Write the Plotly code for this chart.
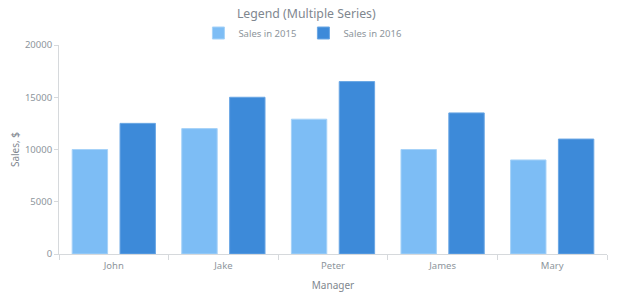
import plotly.graph_objects as go

managers = ["John", "Jake", "Peter", "James", "Mary"]
sales_2015 = [10000, 12000, 12900, 10000, 9000]
sales_2016 = [12500, 15000, 16500, 13500, 11000]
series_names = ["Sales in 2015", "Sales in 2016"]
y_ticks = [0, 5000, 10000, 15000, 20000]

TEXT = "#8d959c"
TITLE = "#7f878f"
AXIS = "#d6d9dc"
FONT = "Noto Sans"

fig = go.Figure()
fig.add_trace(go.Bar(
    x=managers, y=sales_2015, name=series_names[0],
    marker=dict(color="#7dbdf5", line=dict(color="#a6d2f8", width=1)),
))
fig.add_trace(go.Bar(
    x=managers, y=sales_2016, name=series_names[1],
    marker=dict(color="#3d8ad9", line=dict(color="#6aa7e4", width=1)),
))

fig.update_layout(
    width=620, height=300,
    margin=dict(l=58.5, r=13, t=45, b=46),
    paper_bgcolor="white", plot_bgcolor="white",
    font=dict(family=FONT, color=TEXT, size=9.5),
    title=dict(text="Legend (Multiple Series)", x=0.494, xanchor="center",
               y=1 - 14 / 300, yanchor="middle",
               font=dict(family=FONT, size=12.3, color=TITLE)),
    legend=dict(orientation="h", x=0.446, xanchor="center",
                y=1 + 12 / 209, yanchor="middle",
                font=dict(size=9.5, color=TEXT),
                itemwidth=30, entrywidth=60, entrywidthmode="pixels",
                traceorder="normal", bgcolor="rgba(0,0,0,0)"),
    barmode="group", bargap=0.127, bargroupgap=0.26,
    showlegend=True,
)
fig.update_xaxes(
    automargin=False,
    showline=True, linecolor=AXIS, linewidth=1,
    ticks="outside", tickson="boundaries", ticklen=5, tickcolor=AXIS,
    ticklabelstandoff=3,
    showgrid=False, tickfont=dict(size=9.5, color=TEXT),
    title=dict(text="Manager", font=dict(size=10, color=TITLE), standoff=10),
)
fig.update_yaxes(
    automargin=False,
    range=[0, 20000], tickvals=y_ticks, ticktext=[str(v) for v in y_ticks],
    showline=True, linecolor=AXIS, linewidth=1,
    ticks="outside", ticklen=4, tickcolor=AXIS,
    showgrid=False, zeroline=False, tickfont=dict(size=9.5, color=TEXT),
    title=dict(text="Sales, $", font=dict(size=10, color=TITLE), standoff=3),
)

fig.write_html("out.html")
